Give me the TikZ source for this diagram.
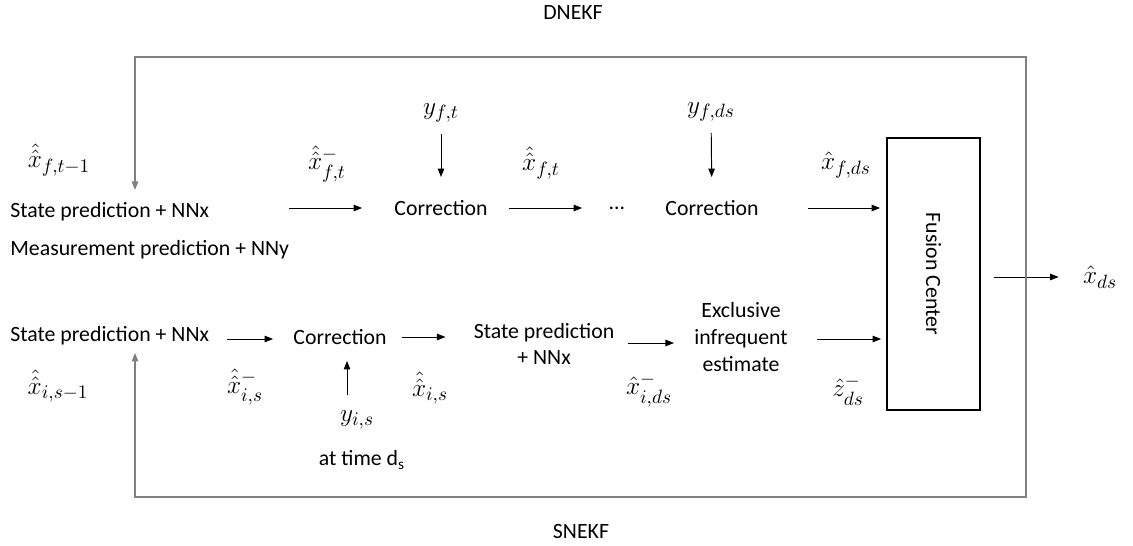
\documentclass[tikz,border=0pt]{standalone}
\usepackage{amsmath}
\usepackage{fontspec}
\setmainfont{Carlito}
\usetikzlibrary{positioning, arrows.meta, calc}
\definecolor{mFrame}{HTML}{808080}

\begin{document}
\begin{tikzpicture}[
  x=0.02cm, y=-0.02cm,
  lbl/.style={inner sep=0pt, align=center, font=\fontsize{12.4}{15.3}\selectfont},
  sym/.style={inner sep=0pt, font=\fontsize{15}{17}\selectfont},
  flow/.style={-{Triangle[length=1.7mm, width=1.3mm]}, line width=0.55pt},
  loopline/.style={{Triangle[length=1.7mm, width=1.3mm]}-{Triangle[length=1.7mm, width=1.3mm]},
                   draw=mFrame, line width=0.85pt},
  fusionbox/.style={draw, line width=1pt, minimum width=1.86cm, minimum height=5.44cm},
]
  \useasboundingbox (0,0) rectangle (1133,546);

  % Titles of the two filters
  \node[lbl] (dnekf) at (573,13) {DNEKF};
  \node[lbl] (snekf) at (581,532) {SNEKF};

  % Top half: DNEKF chain
  \node[lbl, anchor=west] (sp1) at (10,212) {State prediction + NNx};
  \node[lbl, anchor=west] (mp1) at (10,250) {Measurement prediction + NNy};
  \node[lbl] (corr1) at (441,208) {Correction};
  \node[lbl] (dots) at (617,208) {\dots};
  \node[lbl] (corr2) at (712,208) {Correction};
  \node[sym] (yft) at (441,113) {$y_{f,t}$};
  \node[sym] (yfds) at (711,112) {$y_{f,ds}$};
  \node[sym] (xfprev) at (59,160) {$\hat{\hat{x}}_{f,t-1}$};
  \node[sym] (xfpri) at (327,164) {$\hat{\hat{x}}^-_{f,t}$};
  \node[sym] (xfpost) at (541,163) {$\hat{\hat{x}}_{f,t}$};
  \node[sym] (xfds) at (846,165) {$\hat{x}_{f,ds}$};

  % Fusion center and output
  \node[fusionbox] (fc) at (933.5,274) {};
  \node[lbl, rotate=-90] (fctext) at (fc.center) {Fusion Center};
  \node[sym] (xds) at (1100,277) {$\hat{x}_{ds}$};

  % Bottom half: SNEKF chain
  \node[lbl, anchor=west] (sp2) at (10,336) {State prediction + NNx};
  \node[lbl] (corr3) at (340,337) {Correction};
  \node[lbl] (sp3) at (544,344) {State prediction\\+ NNx};
  \node[lbl] (eie) at (741,337) {Exclusive\\infrequent\\estimate};
  \node[sym] (yis) at (357,420) {$y_{i,s}$};
  \node[lbl] (attime) at (362,460) {at time d\textsubscript{s}};
  \node[sym] (xiprev) at (58,386) {$\hat{\hat{x}}_{i,s-1}$};
  \node[sym] (xipri) at (245,387) {$\hat{\hat{x}}^-_{i,s}$};
  \node[sym] (xipost) at (430,388) {$\hat{\hat{x}}_{i,s}$};
  \node[sym] (xidspri) at (649,390) {$\hat{x}^-_{i,ds}$};
  \node[sym] (zdspri) at (848,390) {$\hat{z}^-_{ds}$};

  % Connectors, top
  \draw[flow, shorten <=1.6cm, shorten >=0.64cm] (sp1.east |- corr1) -- (corr1.west);
  \draw[flow, shorten <=0.42cm, shorten >=0.54cm] (corr1.east) -- (dots.west);
  \draw[flow, shorten <=0.98cm, shorten >=0.12cm] (corr2.east) -- (corr2.east -| fc.west);
  \draw[flow, shorten <=0.22cm, shorten >=0.46cm] (yft) -- (corr1);
  \draw[flow, shorten <=0.22cm, shorten >=0.46cm] (yfds) -- (corr2);

  % Connectors, bottom
  \draw[flow, shorten <=0.36cm, shorten >=0.4cm] (sp2.east |- 0,339) -- (corr3.west |- 0,339);
  \draw[flow, shorten <=0.3cm, shorten >=0.56cm] (corr3.east) -- (corr3.east -| sp3.west);
  \draw[flow, shorten <=0.26cm, shorten >=0.4cm] (sp3.east |- 0,343) -- (eie.west |- 0,343);
  \draw[flow, shorten <=0.58cm, shorten >=0.1cm] (eie.east |- 0,339) -- (fc.west |- 0,339);
  \draw[flow, shorten <=0.3cm, shorten >=0.32cm] ([xshift=-0.2cm]yis.north) -- ([xshift=-0.2cm]yis.north |- corr3.south);

  % Output
  \draw[flow, shorten <=0.26cm, shorten >=0.48cm] (fc.east |- xds) -- (xds.west);

  % Feedback frame
  \coordinate (fbin) at (135,190);
  \coordinate (fbout) at (135,353);
  \coordinate (ne) at (1026,57);
  \coordinate (sw) at (135,497);
  \draw[loopline] (fbin) |- (ne) |- (sw) -- (fbout);
\end{tikzpicture}
\end{document}
